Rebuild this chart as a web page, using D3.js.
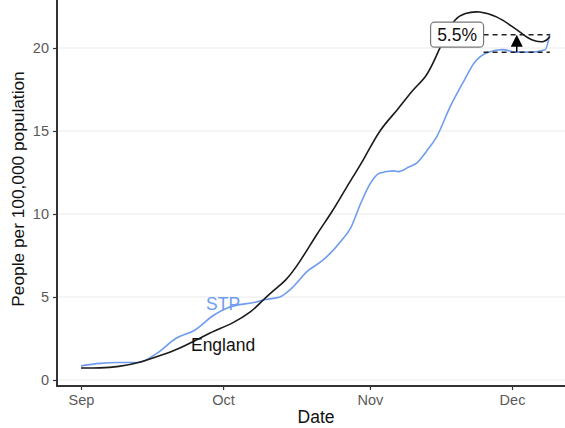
<!DOCTYPE html>
<html><head><meta charset="utf-8">
<script src="https://cdn.jsdelivr.net/npm/d3@7"></script>
<style>body{margin:0;background:#fff}svg{display:block;font-family:Arial,"Liberation Sans",sans-serif}</style>
</head><body><svg id="c" width="565" height="428"></svg>
<script>
const englandDates = ["2020-09-01","2020-09-05","2020-09-09","2020-09-13","2020-09-19","2020-09-21","2020-09-26","2020-09-29","2020-10-03","2020-10-07","2020-10-09","2020-10-12","2020-10-14","2020-10-17","2020-10-21","2020-10-24","2020-10-27","2020-10-31","2020-11-03","2020-11-07","2020-11-10","2020-11-13","2020-11-15","2020-11-17","2020-11-19","2020-11-21","2020-11-24","2020-11-28","2020-12-01","2020-12-03","2020-12-05","2020-12-08","2020-12-09"];
const englandValues = [0.72,0.72,0.8,1.0,1.6,1.8,2.5,2.95,3.4,4.1,4.7,5.5,5.9,7.0,8.9,10.1,11.6,13.4,15.1,16.3,17.5,18.25,19.5,20.8,21.8,22.1,22.25,21.9,21.3,20.9,20.45,20.3,20.7];
const stpDates = ["2020-09-01","2020-09-05","2020-09-09","2020-09-13","2020-09-17","2020-09-21","2020-09-25","2020-09-29","2020-10-02","2020-10-08","2020-10-10","2020-10-13","2020-10-15","2020-10-19","2020-10-22","2020-10-26","2020-10-28","2020-10-30","2020-11-01","2020-11-03","2020-11-06","2020-11-07","2020-11-09","2020-11-11","2020-11-13","2020-11-15","2020-11-18","2020-11-21","2020-11-23","2020-11-26","2020-11-29","2020-12-02","2020-12-05","2020-12-08","2020-12-09"];
const stpValues = [0.85,1.0,1.05,1.05,1.6,2.5,3.0,3.9,4.35,4.7,4.85,5.0,5.4,6.6,7.2,8.4,9.2,10.6,11.8,12.45,12.6,12.55,12.8,13.1,13.8,14.6,16.5,18.1,19.1,19.75,19.9,19.75,19.75,19.9,20.85];
const xTickDates = ["2020-09-01","2020-10-01","2020-11-01","2020-12-01"];
const xTickLabels = ["Sep","Oct","Nov","Dec"];
const yTicks = [0,5,10,15,20];
const gapLow = 19.75, gapHigh = 20.8, gapLabel = "5.5%", gapDate = "2020-12-02", labelDate = "2020-11-25";

const P = d3.utcParse("%Y-%m-%d");
const svg = d3.select("#c");
const L = 57, R = 565, T = 0, B = 386;
const x = d3.scaleUtc().domain([P("2020-09-01"), P("2020-12-01")]).range([81, 512]);
const y = d3.scaleLinear().domain([0, 20]).range([380, 48]);
const FF = "Arial, Liberation Sans, sans-serif";

// gridlines
svg.append("g").selectAll("line").data(yTicks).join("line")
  .attr("x1", L).attr("x2", R).attr("y1", d => y(d)).attr("y2", d => y(d))
  .attr("stroke", "#ebebeb").attr("stroke-width", 1.2);

const lineE = d3.line().x(d => x(d[0])).y(d => y(d[1])).curve(d3.curveBasis);
const lineS = d3.line().x(d => x(d[0])).y(d => y(d[1])).curve(d3.curveMonotoneX);
const eng = englandDates.map((d, i) => [P(d), englandValues[i]]);
const stp = stpDates.map((d, i) => [P(d), stpValues[i]]);

svg.append("path").datum(stp).attr("d", lineS).attr("fill", "none").attr("stroke", "#6f9cef").attr("stroke-width", 1.6);
svg.append("path").datum(eng).attr("d", lineE).attr("fill", "none").attr("stroke", "#1a1a1a").attr("stroke-width", 1.6);

// axes
const gx = svg.append("g").attr("transform", `translate(0,${B})`)
  .call(d3.axisBottom(x).tickValues(xTickDates.map(P)).tickFormat((d, i) => xTickLabels[i]).tickSizeOuter(0).tickSize(4).tickPadding(5));
gx.select(".domain").remove();
gx.append("line").attr("x1", L).attr("x2", R).attr("stroke", "#333").attr("stroke-width", 2);
gx.selectAll(".tick line").attr("stroke", "#333").attr("stroke-width", 1.2);
gx.selectAll(".tick text").attr("fill", "#5a5a5a").attr("font-size", 14.5).attr("font-family", FF);

const gy = svg.append("g").attr("transform", `translate(${L},0)`)
  .call(d3.axisLeft(y).tickValues(yTicks).tickSizeOuter(0).tickSize(4).tickPadding(4));
gy.select(".domain").remove();
gy.append("line").attr("y1", T).attr("y2", B + 1).attr("stroke", "#333").attr("stroke-width", 2);
gy.selectAll(".tick line").attr("stroke", "#333").attr("stroke-width", 1.2);
gy.selectAll(".tick text").attr("fill", "#5a5a5a").attr("font-size", 14.5).attr("font-family", FF);

// titles
svg.append("text").attr("x", 316).attr("y", 423).attr("text-anchor", "middle").attr("font-size", 17.5).attr("fill", "#111").text("Date");
svg.append("text").attr("transform", "translate(24,189) rotate(-90)").attr("text-anchor", "middle").attr("font-size", 17.3).attr("fill", "#111").text("People per 100,000 population");

// series labels
svg.append("text").attr("x", x(P("2020-10-01"))).attr("y", y(4.2)).attr("text-anchor", "middle").attr("font-size", 17.5).attr("fill", "#6f9cef").text("STP");
svg.append("text").attr("x", x(P("2020-10-01"))).attr("y", y(1.75)).attr("text-anchor", "middle").attr("font-size", 17.5).attr("fill", "#111").text("England");

// gap annotation
const xEnd = x(P(stpDates[stpDates.length - 1]));
const xLab = x(P(labelDate));
[gapHigh, gapLow].forEach(v => {
  svg.append("line").attr("x1", xLab).attr("x2", xEnd).attr("y1", y(v)).attr("y2", y(v))
    .attr("stroke", "#222").attr("stroke-width", 1.5).attr("stroke-dasharray", "5,4");
});
const ax = x(P(gapDate));
svg.append("line").attr("x1", ax).attr("x2", ax).attr("y1", y(gapLow)).attr("y2", y(gapHigh) + 8).attr("stroke", "#000").attr("stroke-width", 1.5);
svg.append("path").attr("d", `M${ax},${y(gapHigh)} L${ax - 6},${y(gapHigh) + 12} L${ax + 6},${y(gapHigh) + 12} Z`).attr("fill", "#000");

const bw = 53, bh = 25;
svg.append("rect").attr("x", xLab - bw).attr("y", y(gapHigh) - bh / 2).attr("width", bw).attr("height", bh)
  .attr("rx", 4).attr("fill", "#fff").attr("stroke", "#777").attr("stroke-width", 1.2);
svg.append("text").attr("x", xLab - bw / 2).attr("y", y(gapHigh) + 6.5).attr("text-anchor", "middle").attr("font-size", 17.5).attr("fill", "#111").text(gapLabel);
</script></body></html>
